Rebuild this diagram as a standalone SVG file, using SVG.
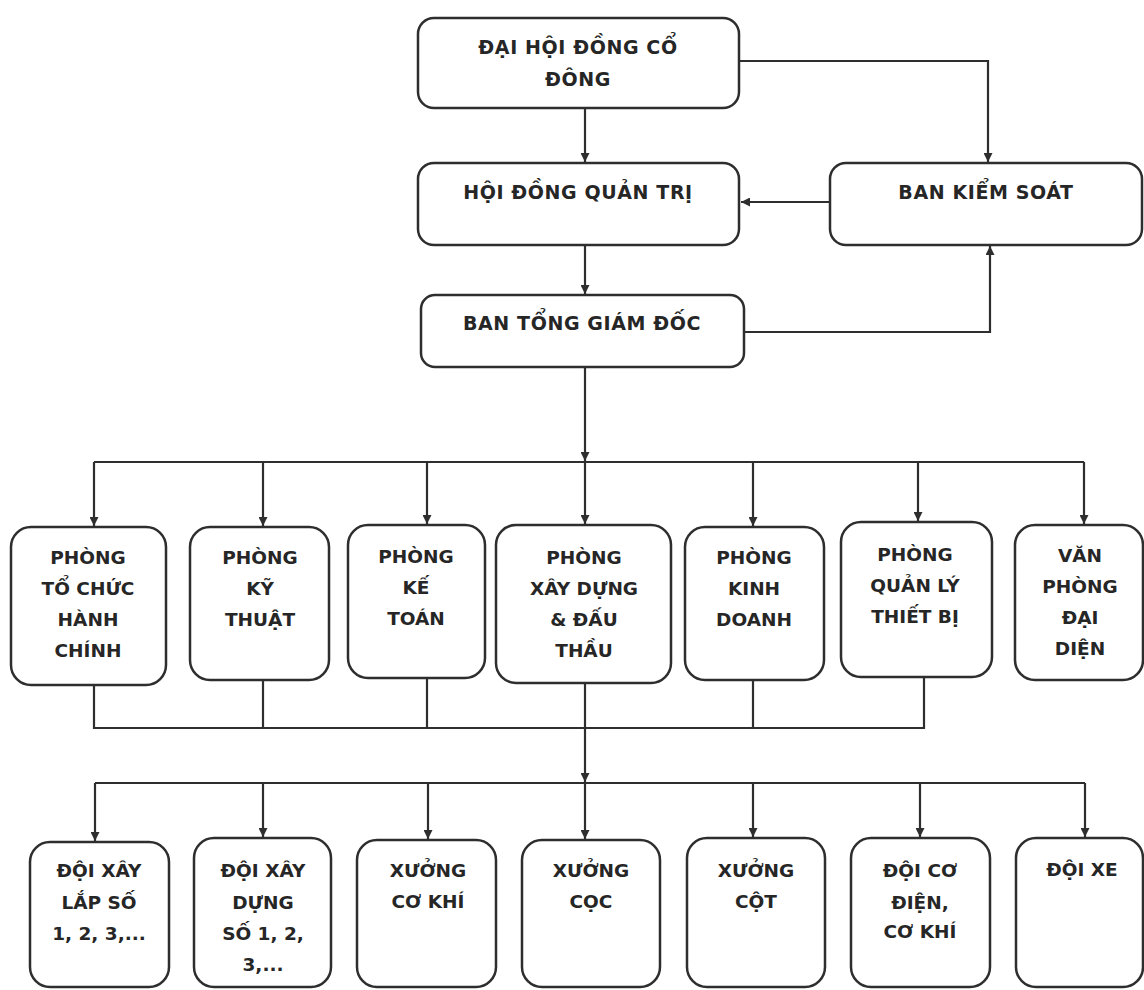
<svg xmlns="http://www.w3.org/2000/svg" width="1144" height="990" viewBox="0 0 1144 990">
<style>
.box{fill:#ffffff;stroke:#2e2e2e;stroke-width:2.5}
.ln{fill:none;stroke:#2e2e2e;stroke-width:2.2}
.t1{font-family:"DejaVu Sans","Liberation Sans",sans-serif;font-weight:bold;font-size:19px;fill:#262626;text-anchor:middle;letter-spacing:0.6px}
.t2{font-family:"DejaVu Sans","Liberation Sans",sans-serif;font-weight:bold;font-size:18.5px;fill:#262626;text-anchor:middle}
</style>
<defs>
<marker id="arr" markerUnits="userSpaceOnUse" markerWidth="9" markerHeight="9" refX="9" refY="4.5" orient="auto">
<path d="M0,0 L9,4.5 L0,9 z" fill="#2e2e2e"/>
</marker>
</defs>
<rect width="1144" height="990" fill="#ffffff"/>
<g id="connectors">
<path class="ln" d="M585,108 V162" marker-end="url(#arr)"/>
<path class="ln" d="M739,61 H988 V162" marker-end="url(#arr)"/>
<path class="ln" d="M830,202 H741" marker-end="url(#arr)"/>
<path class="ln" d="M585,245 V294" marker-end="url(#arr)"/>
<path class="ln" d="M744,332 H990 V246" marker-end="url(#arr)"/>
<path class="ln" d="M585,367 V461" marker-end="url(#arr)"/>
<path class="ln" d="M94,462 H1084"/>
<path class="ln" d="M94,462 V526" marker-end="url(#arr)"/>
<path class="ln" d="M263,462 V526" marker-end="url(#arr)"/>
<path class="ln" d="M427,462 V524" marker-end="url(#arr)"/>
<path class="ln" d="M585,462 V524" marker-end="url(#arr)"/>
<path class="ln" d="M753,462 V526" marker-end="url(#arr)"/>
<path class="ln" d="M918,462 V521" marker-end="url(#arr)"/>
<path class="ln" d="M1084,462 V524" marker-end="url(#arr)"/>
<path class="ln" d="M94,685 V728 H924 V677"/>
<path class="ln" d="M263,680 V728"/>
<path class="ln" d="M427,678 V728"/>
<path class="ln" d="M585,683 V728"/>
<path class="ln" d="M753,680 V728"/>
<path class="ln" d="M585,728 V782" marker-end="url(#arr)"/>
<path class="ln" d="M95,783 H1085"/>
<path class="ln" d="M95,783 V841" marker-end="url(#arr)"/>
<path class="ln" d="M263,783 V837" marker-end="url(#arr)"/>
<path class="ln" d="M428,783 V839" marker-end="url(#arr)"/>
<path class="ln" d="M585,783 V839" marker-end="url(#arr)"/>
<path class="ln" d="M753,783 V837" marker-end="url(#arr)"/>
<path class="ln" d="M920,783 V837" marker-end="url(#arr)"/>
<path class="ln" d="M1085,783 V837" marker-end="url(#arr)"/>
</g>
<g id="dhdcd">
<rect class="box" x="418" y="18" width="321" height="90" rx="16"/>
<text class="t1" x="578" y="54">ĐẠI HỘI ĐỒNG CỔ</text>
<text class="t1" x="578" y="86">ĐÔNG</text>
</g>
<g id="hdqt">
<rect class="box" x="418" y="163" width="321" height="82" rx="16"/>
<text class="t1" x="578" y="199">HỘI ĐỒNG QUẢN TRỊ</text>
</g>
<g id="bks">
<rect class="box" x="830" y="163" width="312" height="82" rx="16"/>
<text class="t1" x="986" y="199">BAN KIỂM SOÁT</text>
</g>
<g id="btgd">
<rect class="box" x="421" y="295" width="323" height="72" rx="14"/>
<text class="t1" x="582" y="330">BAN TỔNG GIÁM ĐỐC</text>
</g>
<g id="p-tchc">
<rect class="box" x="11" y="527" width="155" height="158" rx="20"/>
<text class="t2" x="88" y="564">PHÒNG</text>
<text class="t2" x="88" y="595">TỔ CHỨC</text>
<text class="t2" x="88" y="626">HÀNH</text>
<text class="t2" x="88" y="657">CHÍNH</text>
</g>
<g id="p-kt">
<rect class="box" x="190" y="527" width="139" height="153" rx="20"/>
<text class="t2" x="260" y="564">PHÒNG</text>
<text class="t2" x="260" y="595">KỸ</text>
<text class="t2" x="260" y="626">THUẬT</text>
</g>
<g id="p-kto">
<rect class="box" x="348" y="525" width="137" height="153" rx="20"/>
<text class="t2" x="416" y="563">PHÒNG</text>
<text class="t2" x="416" y="594">KẾ</text>
<text class="t2" x="416" y="625">TOÁN</text>
</g>
<g id="p-xd">
<rect class="box" x="496" y="525" width="175" height="158" rx="20"/>
<text class="t2" x="584" y="564">PHÒNG</text>
<text class="t2" x="584" y="595">XÂY DỰNG</text>
<text class="t2" x="584" y="626">&amp; ĐẤU</text>
<text class="t2" x="584" y="657">THẦU</text>
</g>
<g id="p-kd">
<rect class="box" x="685" y="527" width="139" height="153" rx="20"/>
<text class="t2" x="754" y="564">PHÒNG</text>
<text class="t2" x="754" y="595">KINH</text>
<text class="t2" x="754" y="626">DOANH</text>
</g>
<g id="p-qltb">
<rect class="box" x="841" y="522" width="151" height="155" rx="20"/>
<text class="t2" x="915" y="561">PHÒNG</text>
<text class="t2" x="915" y="592">QUẢN LÝ</text>
<text class="t2" x="915" y="623">THIẾT BỊ</text>
</g>
<g id="vpdd">
<rect class="box" x="1015" y="525" width="128" height="155" rx="20"/>
<text class="t2" x="1080" y="562">VĂN</text>
<text class="t2" x="1080" y="593">PHÒNG</text>
<text class="t2" x="1080" y="624">ĐẠI</text>
<text class="t2" x="1080" y="655">DIỆN</text>
</g>
<g id="d-xl">
<rect class="box" x="30" y="842" width="139" height="145" rx="20"/>
<text class="t2" x="99" y="877">ĐỘI XÂY</text>
<text class="t2" x="99" y="909">LẮP SỐ</text>
<text class="t2" x="99" y="940">1, 2, 3,...</text>
</g>
<g id="d-xd">
<rect class="box" x="194" y="838" width="137" height="149" rx="20"/>
<text class="t2" x="263" y="877">ĐỘI XÂY</text>
<text class="t2" x="263" y="909">DỰNG</text>
<text class="t2" x="263" y="940">SỐ 1, 2,</text>
<text class="t2" x="263" y="971">3,...</text>
</g>
<g id="x-ck">
<rect class="box" x="357" y="840" width="139" height="147" rx="20"/>
<text class="t2" x="428" y="877">XƯỞNG</text>
<text class="t2" x="428" y="908">CƠ KHÍ</text>
</g>
<g id="x-coc">
<rect class="box" x="522" y="840" width="138" height="147" rx="20"/>
<text class="t2" x="591" y="877">XƯỞNG</text>
<text class="t2" x="591" y="908">CỌC</text>
</g>
<g id="x-cot">
<rect class="box" x="687" y="838" width="138" height="149" rx="20"/>
<text class="t2" x="756" y="877">XƯỞNG</text>
<text class="t2" x="756" y="908">CỘT</text>
</g>
<g id="d-cd">
<rect class="box" x="851" y="838" width="139" height="149" rx="20"/>
<text class="t2" x="920" y="877">ĐỘI CƠ</text>
<text class="t2" x="920" y="909">ĐIỆN,</text>
<text class="t2" x="920" y="938">CƠ KHÍ</text>
</g>
<g id="d-xe">
<rect class="box" x="1016" y="838" width="127" height="149" rx="20"/>
<text class="t2" x="1082" y="876">ĐỘI XE</text>
</g>
</svg>
